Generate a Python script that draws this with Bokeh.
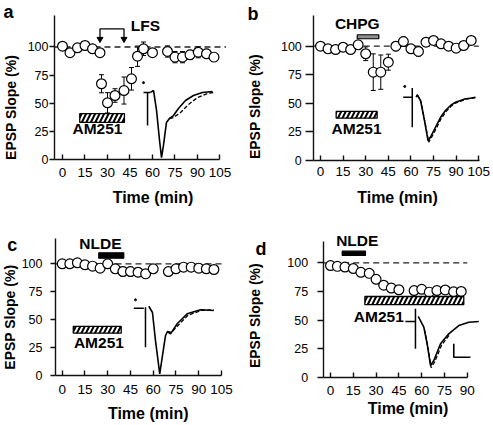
import math
from bokeh.plotting import figure
from bokeh.layouts import gridplot
from bokeh.models import FixedTicker, ColumnDataSource, Whisker, TeeHead
from bokeh.core.properties import value
from bokeh.embed import file_html
from bokeh.resources import INLINE

FONT = "Liberation Sans"

# ---------------- shared ticks / labels ----------------
y_ticks = [0, 25, 50, 75, 100]
x_ticks_105 = [0, 15, 30, 45, 60, 75, 90, 105]
x_ticks_90 = [0, 15, 30, 45, 60, 75, 90]
baseline_level = 100
x_title = "Time (min)"
y_title = "EPSP Slope (%)"

# ---------------- panel a ----------------
a_time = [0, 5, 10, 15, 20, 25, 26, 30, 35, 41, 46, 50, 54, 60, 70, 75, 80, 85, 90.5, 96, 101]
a_slope = [100.7, 94.9, 99.3, 101.3, 98.4, 94.9, 67.4, 50.5, 57, 61.4, 71.8, 91.8, 98.4, 94.9,
           96, 91, 91, 93.1, 95.4, 94, 91]
a_err = [1, 1, 1, 1, 1, 1, 8, 9, 6, 12, 10, 9, 6, 3, 5, 5, 5, 4, 5, 4, 3]
a_dash = [-5.33, 109]
a_bar_am251 = dict(left=[11.5], right=[41.3], bottom=[33.1], top=[41])
a_bracket_t = [25, 25, 41, 41]
a_bracket_v = [106, 116, 116, 106]
a_arrow_t = [25, 41]
a_arrow_v = [107, 107]
a_text_t = [55.3, 23.3]
a_text_v = [119, 27.5]
a_text = ["LFS", "AM251"]
a_trace_t = [58.7, 60.7, 62.7, 64.7, 66, 67.3, 69.3, 71.3, 74, 77.3, 82, 87.3, 93.3, 100]
a_trace_v = [59.7, 61.4, 43.7, 17.1, 2, 12.7, 33, 36.6, 39.2, 45.5, 52.6, 57, 59.7, 60.5]
a_trace2_t = [71.3, 74, 78.7, 84, 90, 96.7, 100.7]
a_trace2_v = [36.6, 37.5, 41.9, 49, 55.2, 58.8, 59.7]
a_stim = dict(x0=[54, 56.7], y0=[59.7, 59.7], x1=[58.7, 56.7], y1=[59.7, 30.4])
a_dot = ([54], [68.4])

# ---------------- panel b ----------------
b_time = [0, 5, 10, 15, 20, 25, 30, 35, 40, 45, 50, 55, 60, 65, 70, 75, 80, 85, 90, 95, 100]
b_slope = [100, 97.7, 97.1, 99.1, 97.1, 101.2, 93.4, 77.3, 77.3, 86, 100, 104.1, 97.7, 95.4,
           103.5, 105, 102.1, 100, 98.3, 100.6, 105]
b_err = [1, 1, 1, 1, 1, 1, 6, 16, 15, 7, 4, 4, 3, 4, 3, 3, 3, 2, 2, 2, 2]
b_dash = [-4.45, 105]
b_bar_chpg = dict(left=[24.4], right=[38.7], bottom=[106.5], top=[110])
b_bar_am251 = dict(left=[10.4], right=[37.6], bottom=[37], top=[42.9])
b_text_t = [24.4, 23.9]
b_text_v = [119.6, 28.2]
b_text = ["CHPG", "AM251"]
b_trace_t = [63.5, 64.2, 66.4, 69, 71.4, 73.6, 76.3, 79.6, 82.9, 86.3, 89.6, 96.2, 102.8]
b_trace_v = [55.4, 57.5, 52.5, 35, 17.2, 21.9, 29.1, 37.6, 43.7, 48.1, 51, 54, 54.9]
b_trace2_t = [64.2, 66.8, 69.4, 71.8, 74, 76.8, 80, 83.3, 86.6, 90, 96.5, 102.8]
b_trace2_v = [57.5, 51, 33, 16, 21, 28, 36.5, 42.8, 47.5, 50.5, 53.5, 55.5]
b_stim = dict(x0=[54.9, 60.9], y0=[55.4, 63.4], x1=[61, 60.9], y1=[55.4, 29.1])
b_dot = ([55.9], [64.8])

# ---------------- panel c ----------------
c_time = [0, 5, 10, 15, 20, 25, 30, 35, 40, 45, 50, 55, 60, 70, 75, 80, 85, 90, 95, 100]
c_slope = [100, 100, 100.9, 99.1, 97.9, 96.1, 100, 95.5, 93.1, 93.1, 92.5, 91, 95.5, 93.1,
           95.5, 97, 97, 96.1, 95.5, 94.9]
c_err = [1, 1, 1, 1, 1, 1, 1, 4, 4, 4, 4, 3, 2, 1, 1, 1, 1, 1, 1, 1]
c_dash = [-4.42, 105]
c_bar_nlde = dict(left=[24.1], right=[40.6], bottom=[105], top=[109.8])
c_bar_am251 = dict(left=[7.3], right=[38.9], bottom=[37.9], top=[43.9])
c_text_t = [25.2, 24.2]
c_text_v = [118.5, 29.8]
c_text = ["NLDE", "AM251"]
c_trace_t = [57.1, 59.5, 61.5, 64.3, 66.1, 68.1, 69.4, 71.4, 75.8, 82.4, 91.2, 99.9]
c_trace_v = [62, 56.4, 31.3, 1.5, 17.9, 35.8, 39.4, 37.3, 46.3, 55.2, 58.8, 58.2]
c_trace2_t = [69.4, 72, 76.5, 83, 92, 99.9]
c_trace2_v = [39.4, 38.5, 45, 54, 58.3, 58.8]
c_stim = dict(x0=[47.2, 54.9], y0=[60.3, 61.1], x1=[53.8, 54.9], y1=[60.3, 25.3])
c_dot = ([48.3], [67.8])

# ---------------- panel d ----------------
d_time = [0, 4.5, 9.5, 15, 20, 25.5, 30, 35, 40, 45, 55, 60, 65, 70, 75.5, 81, 86]
d_slope = [97.6, 96.9, 96.3, 95, 91.7, 90.8, 85.6, 80.5, 78, 76.5, 75.8, 76.9, 74.4, 75.8,
           76.3, 74.7, 75]
d_err = [1, 1, 1, 1, 1, 1, 1, 1, 1, 1, 1, 1, 1, 1, 1, 1, 1]
d_dash = [-4.8, 90]
d_bar_nlde = dict(left=[7.7], right=[23], bottom=[106.4], top=[110.1])
d_bar_am251 = dict(left=[22.6], right=[87.7], bottom=[63.6], top=[70.6])
d_text_t = [17.6, 31.8]
d_text_v = [119.4, 53.2]
d_text = ["NLDE", "AM251"]
d_trace_t = [57.7, 61.4, 63.6, 65.8, 68, 72.4, 77.8, 84.4, 91, 97.6]
d_trace_v = [53.2, 43.9, 29.4, 10.5, 14.8, 29.4, 38.1, 45.3, 48.2, 48.8]
d_trace2_t = [61.8, 64, 66.2, 68.5, 73, 78.4]
d_trace2_v = [42, 27, 8.6, 13.5, 28, 37.5]
d_stim = dict(x0=[49.3, 55.9], y0=[48.8, 59.9], x1=[55.9, 55.9], y1=[48.8, 25])
d_scalebar_t = [81.1, 81.1, 92.1]
d_scalebar_v = [29.4, 17.7, 17.7]


def make_fig(cfg):
    p = figure(frame_width=cfg["fw"], frame_height=cfg["fh"], x_range=cfg["xr"], y_range=cfg["yr"],
               min_border=0, min_border_left=0, min_border_right=0, min_border_top=0,
               min_border_bottom=0, toolbar_location=None, tools="", output_backend="svg")
    p.outline_line_color = None
    p.grid.visible = False
    p.background_fill_color = "white"
    p.border_fill_color = "white"
    p.xaxis.ticker = FixedTicker(ticks=cfg["xticks"])
    p.yaxis.ticker = FixedTicker(ticks=y_ticks)
    p.xaxis.bounds = cfg["xb"]
    p.yaxis.bounds = cfg["yb"]
    p.xaxis.fixed_location = 0
    p.yaxis.fixed_location = cfg["xb"][0]
    for ax in (p.xaxis[0], p.yaxis[0]):
        ax.axis_line_color = "#111111"
        ax.axis_line_width = 1.4
        ax.major_tick_line_color = "#111111"
        ax.major_tick_line_width = 1.4
        ax.minor_tick_line_color = None
        ax.major_label_text_font = FONT
        ax.major_label_text_color = "black"
    p.xaxis.major_tick_in = 5
    p.xaxis.major_tick_out = 0
    p.yaxis.major_tick_in = 0
    p.yaxis.major_tick_out = cfg["ytick_out"]
    p.xaxis.major_label_text_font_size = "13.5px"
    p.yaxis.major_label_text_font_size = "12.5px"
    p.yaxis.major_label_standoff = cfg["ylab_so"]
    p.xaxis.major_label_standoff = cfg["xlab_so"]
    # panel letter and axis titles as text
    p.text(x=[cfg["letter_xy"][0]], y=[cfg["letter_xy"][1]], text=[cfg["letter"]],
           text_font=value(FONT), text_font_style="bold", text_font_size="18px",
           text_align="left", text_baseline="alphabetic", text_color="black")
    p.text(x=[cfg["xt_xy"][0]], y=[cfg["xt_xy"][1]], text=[x_title],
           text_font=value(FONT), text_font_style="bold", text_font_size="16px",
           text_align="center", text_baseline="middle", text_color="black")
    p.text(x=[cfg["yt_xy"][0]], y=[cfg["yt_xy"][1]], text=[y_title], angle=math.pi / 2,
           text_font=value(FONT), text_font_style="bold", text_font_size="14px",
           text_align="center", text_baseline="middle", text_color="black")
    return p


def add_data(p, t, v, e, dash):
    p.line(dash, [baseline_level, baseline_level], line_color="#222222", line_width=1.3,
           line_dash="6 4")
    src = ColumnDataSource(dict(t=t, v=v, lo=[a - b for a, b in zip(v, e)],
                                hi=[a + b for a, b in zip(v, e)]))
    w = Whisker(base="t", upper="hi", lower="lo", source=src, line_color="black", line_width=1,
                upper_head=TeeHead(size=5, line_color="black", line_width=1),
                lower_head=TeeHead(size=5, line_color="black", line_width=1))
    p.add_layout(w)
    p.scatter("t", "v", source=src, marker="circle", size=9.8, fill_color="white",
              line_color="black", line_width=1.2)


def add_hatch(p, bar):
    p.quad(left=bar["left"], right=bar["right"], bottom=bar["bottom"], top=bar["top"],
           fill_color="white", line_color="black", line_width=1.3,
           hatch_pattern="/", hatch_color="black", hatch_scale=9, hatch_weight=2)


def add_solid(p, bar, color):
    p.quad(left=bar["left"], right=bar["right"], bottom=bar["bottom"], top=bar["top"],
           fill_color=color, line_color="black", line_width=1.2)


def add_texts(p, tt, tv, tx):
    p.text(x=tt, y=tv, text=tx, text_font=value(FONT), text_font_style="bold",
           text_font_size="15.5px", text_align="center", text_baseline="middle",
           text_color="black")


def add_trace(p, t1, v1, t2, v2, stim):
    p.segment(x0=stim["x0"], y0=stim["y0"], x1=stim["x1"], y1=stim["y1"],
              line_color="black", line_width=1.5)
    p.line(t1, v1, line_color="black", line_width=1.6)
    p.line(t2, v2, line_color="black", line_width=1.3, line_dash="4 2")


# ---- a ---- (figure spans page x 0..245, y 0..210)
pa = make_fig(dict(fw=245, fh=210, xr=(-41.33, 122), yr=(-44.95, 141.2), xticks=x_ticks_105,
                   xb=(-5.33, 105), yb=(0, 128), ytick_out=5, ylab_so=1, xlab_so=8,
                   letter="a", letter_xy=(-39.3, 130.6), xt_xy=(60.3, -33.7), yt_xy=(-34.3, 46.4)))
add_data(pa, a_time, a_slope, a_err, a_dash)
add_hatch(pa, a_bar_am251)
pa.line(a_bracket_t, a_bracket_v, line_color="black", line_width=1.3)
pa.scatter(a_arrow_t, a_arrow_v, marker="inverted_triangle", size=6, fill_color="black",
           line_color="black")
add_texts(pa, a_text_t, a_text_v, a_text)
add_trace(pa, a_trace_t, a_trace_v, a_trace2_t, a_trace2_v, a_stim)
pa.scatter(a_dot[0], a_dot[1], marker="circle", size=2, fill_color="black", line_color="black")

# ---- b ---- (page x 245..493, y 0..210)
pb = make_fig(dict(fw=248, fh=210, xr=(-49.77, 114.8), yr=(-43.74, 139.98), xticks=x_ticks_105,
                   xb=(-4.45, 105.5), yb=(0, 127), ytick_out=8, ylab_so=4, xlab_so=6,
                   letter="b", letter_xy=(-48.4, 128.3), xt_xy=(51.1, -32.1), yt_xy=(-43.5, 47.2)))
add_data(pb, b_time, b_slope, b_err, b_dash)
add_solid(pb, b_bar_chpg, "#8f8f8f")
add_hatch(pb, b_bar_am251)
add_texts(pb, b_text_t, b_text_v, b_text)
add_trace(pb, b_trace_t, b_trace_v, b_trace2_t, b_trace2_v, b_stim)
pb.scatter(b_dot[0], b_dot[1], marker="circle", size=2, fill_color="black", line_color="black")

# ---- c ---- (page x 0..245, y 210..425)
pc = make_fig(dict(fw=245, fh=215, xr=(-40.67, 120.83), yr=(-44.76, 147.72), xticks=x_ticks_105,
                   xb=(-4.42, 105), yb=(0, 122.6), ytick_out=5, ylab_so=8, xlab_so=9,
                   letter="c", letter_xy=(-36.3, 116.4), xt_xy=(56.7, -34.3), yt_xy=(-34.6, 52.2)))
add_data(pc, c_time, c_slope, c_err, c_dash)
add_solid(pc, c_bar_nlde, "black")
add_hatch(pc, c_bar_am251)
add_texts(pc, c_text_t, c_text_v, c_text)
add_trace(pc, c_trace_t, c_trace_v, c_trace2_t, c_trace2_v, c_stim)
pc.scatter(c_dot[0], c_dot[1], marker="circle", size=2, fill_color="black", line_color="black")

# ---- d ---- (page x 245..493, y 210..425)
pd_ = make_fig(dict(fw=248, fh=215, xr=(-55.92, 107.24), yr=(-41.85, 145.6), xticks=x_ticks_90,
                    xb=(-4.8, 90), yb=(0, 118.5), ytick_out=6, ylab_so=9, xlab_so=9,
                    letter="d", letter_xy=(-49.3, 112.2), xt_xy=(51, -27.3), yt_xy=(-49.7, 54)))
add_data(pd_, d_time, d_slope, d_err, d_dash)
add_solid(pd_, d_bar_nlde, "black")
add_hatch(pd_, d_bar_am251)
add_texts(pd_, d_text_t, d_text_v, d_text)
add_trace(pd_, d_trace_t, d_trace_v, d_trace2_t, d_trace2_v, d_stim)
pd_.line(d_scalebar_t, d_scalebar_v, line_color="black", line_width=1.6)

grid = gridplot([[pa, pb], [pc, pd_]], toolbar_location=None)

open("out.html", "w").write(file_html(grid, INLINE))
